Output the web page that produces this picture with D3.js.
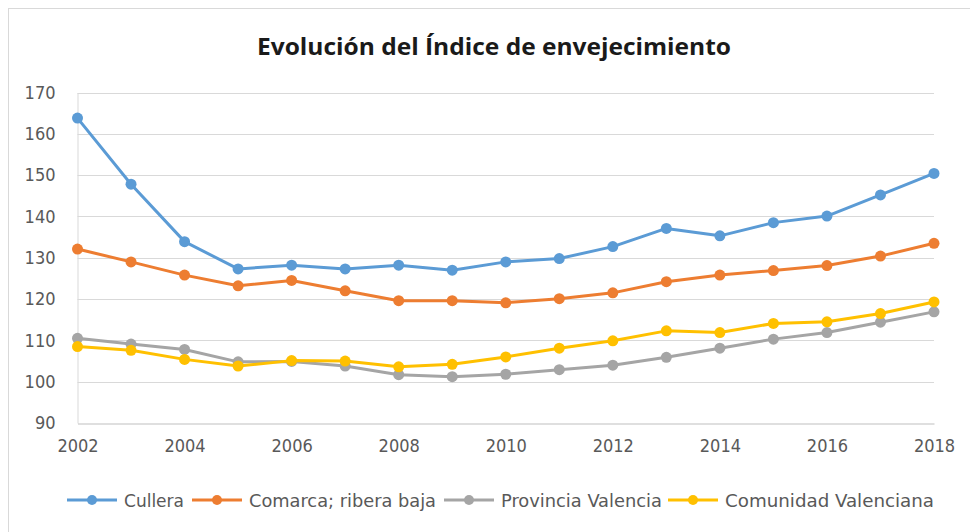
<!DOCTYPE html>
<html>
<head>
<meta charset="utf-8">
<script src="https://cdn.jsdelivr.net/npm/d3@7"></script>
<style>
  html, body { margin: 0; padding: 0; background: #fff; }
  svg { display: block; }
  text { font-family: "DejaVu Sans Condensed", "Liberation Sans Narrow", sans-serif; }
</style>
</head>
<body>
<svg id="chart"></svg>
<script>
const years = d3.range(2002, 2019)
const xTicks = [2002, 2004, 2006, 2008, 2010, 2012, 2014, 2016, 2018]
const yTicks = [90, 100, 110, 120, 130, 140, 150, 160, 170]

const cullera = [163.8, 147.8, 133.9, 127.3, 128.2, 127.3, 128.2, 127.0, 129.0, 129.8, 132.7, 137.1, 135.3, 138.5, 140.1, 145.2, 150.4]
const comarca = [132.1, 129.0, 125.8, 123.2, 124.5, 122.0, 119.6, 119.6, 119.1, 120.1, 121.5, 124.2, 125.8, 126.9, 128.1, 130.4, 133.5]
const provincia = [110.5, 109.1, 107.8, 104.8, 104.9, 103.8, 101.7, 101.2, 101.8, 102.9, 104.0, 105.9, 108.1, 110.3, 111.9, 114.4, 116.9]
const comunidad = [108.5, 107.6, 105.4, 103.8, 105.1, 105.0, 103.6, 104.2, 106.0, 108.1, 109.9, 112.3, 111.9, 114.1, 114.5, 116.5, 119.3]

const seriesNames = ['Cullera', 'Comarca; ribera baja', 'Provincia Valencia', 'Comunidad Valenciana']
const colors = ['#5B9BD5', '#ED7D31', '#A5A5A5', '#FFC000']

const width = 970, height = 532
const margin = {top: 92.5, bottom: 109, left: 77.5, right: 36}

const series = [cullera, comarca, provincia, comunidad].map((vals, i) => ({
  name: seriesNames[i], color: colors[i],
  values: vals.map((v, j) => ({year: years[j], value: v}))
}))

const x = d3.scaleLinear().domain([2002, 2018]).range([margin.left, width - margin.right])
const y = d3.scaleLinear().domain([90, 170]).range([height - margin.bottom, margin.top])

const svg = d3.select('#chart').attr('width', width).attr('height', height)

// chart area border
svg.append('rect')
  .attr('x', 8.5).attr('y', 8.5)
  .attr('width', width).attr('height', height)
  .attr('fill', 'none').attr('stroke', '#d9d9d9')

svg.append('text')
  .attr('x', 494).attr('y', 55)
  .attr('text-anchor', 'middle')
  .attr('font-size', '24px').attr('font-weight', 'bold')
  .attr('fill', '#1a1a1a')
  .style('font-family', '"Open Sans", "DejaVu Sans", sans-serif')
  .attr('textLength', 474).attr('lengthAdjust', 'spacingAndGlyphs')
  .text('Evolución del Índice de envejecimiento')

// gridlines
svg.append('g').selectAll('line')
  .data(yTicks.filter(d => d > 90))
  .join('line')
  .attr('x1', margin.left).attr('x2', width - margin.right)
  .attr('y1', d => Math.round(y(d)) + 0.5).attr('y2', d => Math.round(y(d)) + 0.5)
  .attr('stroke', '#d9d9d9').attr('stroke-width', 1)

// y axis
const yAxis = svg.append('g')
  .attr('transform', `translate(${margin.left},0)`)
  .call(d3.axisLeft(y).tickValues(yTicks).tickSize(0).tickPadding(22))
yAxis.select('.domain').attr('stroke', '#d9d9d9')
yAxis.selectAll('text').attr('font-size', '18px').attr('fill', '#595959')

// x axis
const xAxis = svg.append('g')
  .attr('transform', `translate(0,${Math.round(y(90)) + 0.5})`)
  .call(d3.axisBottom(x).tickValues(xTicks).tickFormat(d3.format('d')).tickSize(0).tickPadding(16))
xAxis.select('.domain').attr('stroke', '#bfbfbf')
xAxis.selectAll('text').attr('font-size', '18px').attr('fill', '#595959')

const line = d3.line().x(d => x(d.year)).y(d => y(d.value))

const g = svg.append('g')
series.forEach(s => {
  g.append('path')
    .datum(s.values)
    .attr('fill', 'none')
    .attr('stroke', s.color)
    .attr('stroke-width', 3)
    .attr('stroke-linejoin', 'round')
    .attr('d', line)
  g.append('g').selectAll('circle')
    .data(s.values)
    .join('circle')
    .attr('cx', d => x(d.year)).attr('cy', d => y(d.value))
    .attr('r', 5.5)
    .attr('fill', s.color)
})

// legend
const legendX = [67, 192, 444, 668]
const legendW = [60, 187, 161, 209]
const legend = svg.append('g').attr('transform', 'translate(0,500)')
series.forEach((s, i) => {
  const lg = legend.append('g').attr('transform', `translate(${legendX[i]},0)`)
  lg.append('line').attr('x1', 0).attr('x2', 50).attr('y1', 0).attr('y2', 0)
    .attr('stroke', s.color).attr('stroke-width', 3)
  lg.append('circle').attr('cx', 25).attr('cy', 0).attr('r', 5).attr('fill', s.color)
  lg.append('text').attr('x', 57).attr('y', 6.5)
    .attr('font-size', '18px').attr('fill', '#595959')
    .attr('textLength', legendW[i]).attr('lengthAdjust', 'spacingAndGlyphs')
    .text(s.name)
})
</script>
</body>
</html>
